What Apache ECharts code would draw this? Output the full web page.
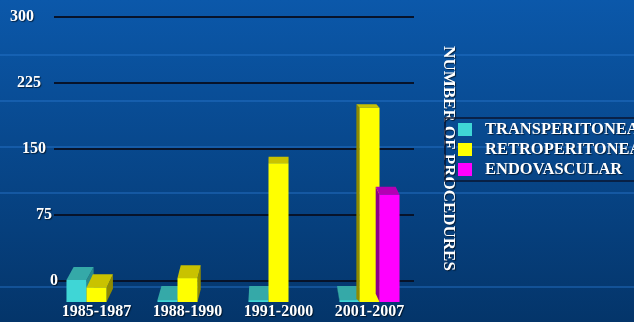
<!DOCTYPE html>
<html>
<head>
<meta charset="utf-8">
<script src="https://cdn.jsdelivr.net/npm/echarts@6/dist/echarts.min.js"></script>
<style>html,body{margin:0;padding:0;background:#0a4f9a;}#c{width:634px;height:322px;}</style>
</head>
<body>
<div id="c"></div>
<script>
const categories = ['1985-1987', '1988-1990', '1991-2000', '2001-2007'];
const transperitoneal = [23, 2, 2, 2];
const retroperitoneal = [15, 25, 145, 203];
const endovascular = [null, null, null, 112];
const yTicks = [0, 75, 150, 225, 300];
const seriesNames = ['TRANSPERITONEAL', 'RETROPERITONEAL', 'ENDOVASCULAR'];
const axisTitle = 'NUMBER OF PROCEDURES';

const faces = [
  { front: '#3fd6d6', top: '#35a9a8', side: '#2a8a8a' },
  { front: '#ffff00', top: '#c9c200', side: '#8f8a00' },
  { front: '#ff00ff', top: '#b400b4', side: '#8a008a' }
];
const labelPad = { 0: 0, 75: 6, 150: 12, 225: 17, 300: 24 };

function renderBar(params, api) {
  const i = api.value(0);
  const v = api.value(1);
  if (v == null || isNaN(v)) return;
  const base = api.coord([i, 0]);
  const top = api.coord([i, v]);
  const band = api.size([1, 0])[0];
  const w = band * 0.22;
  const s = params.seriesIndex;
  const x0 = base[0] + (s - 1.5) * w;
  const x1 = x0 + w;
  const yb = base[1];
  const yt = top[1];
  const cs = params.coordSys;
  const cx = (x0 + x1) / 2;
  const vx = cs.x + cs.width * 0.63;
  const dx = (vx - cx) * 0.035;
  const dy = -Math.max(2.5, 3 + (yt - 100) * 0.055);
  const f = faces[s];
  const children = [];
  if (dx >= 0) {
    children.push({ type: 'polygon', shape: { points: [[x1, yt], [x1 + dx, yt + dy], [x1 + dx, yb + dy], [x1, yb]] }, style: { fill: f.side } });
  } else {
    children.push({ type: 'polygon', shape: { points: [[x0, yt], [x0 + dx, yt + dy], [x0 + dx, yb + dy], [x0, yb]] }, style: { fill: f.side } });
  }
  children.push({ type: 'polygon', shape: { points: [[x0, yt], [x1, yt], [x1 + dx, yt + dy], [x0 + dx, yt + dy]] }, style: { fill: f.top } });
  children.push({ type: 'rect', shape: { x: x0, y: yt, width: w, height: yb - yt }, style: { fill: f.front } });
  return { type: 'group', children: children };
}

function mkData(arr) { return arr.map((v, i) => [i, v]); }

const shadow = { textShadowColor: 'rgba(0,0,0,0.6)', textShadowOffsetX: 1, textShadowOffsetY: 1, textShadowBlur: 1 };
const richLabels = {};
yTicks.forEach(t => {
  richLabels['t' + t] = Object.assign({ padding: [0, labelPad[t], 0, 0], color: '#ffffff', fontFamily: 'Liberation Serif', fontWeight: 'bold', fontSize: 16 }, shadow);
});

const chart = echarts.init(document.getElementById('c'), null, { renderer: 'canvas' });
const bgLines = [55, 101, 147, 193, 287].map(y => ({
  type: 'line', silent: true, z: -10,
  shape: { x1: 0, y1: y, x2: 634, y2: y },
  style: { stroke: '#2a78d0', lineWidth: 1.5, opacity: 0.55 }
}));

chart.setOption({
  animation: false,
  backgroundColor: { type: 'linear', x: 0, y: 0, x2: 0, y2: 1,
    colorStops: [{ offset: 0, color: '#0b58aa' }, { offset: 1, color: '#04356a' }] },
  graphic: bgLines,
  grid: [
    { left: 54, right: 220, top: 17, bottom: 41 },
    { left: 51, right: 219, top: 15, bottom: 20 }
  ],
  xAxis: [
    { type: 'category', gridIndex: 0, data: categories, show: false },
    { type: 'category', gridIndex: 1, data: categories,
      axisLine: { show: false }, axisTick: { show: false },
      axisLabel: Object.assign({ margin: 2, color: '#ffffff', fontFamily: 'Liberation Serif', fontWeight: 'bold', fontSize: 16 }, shadow) }
  ],
  yAxis: [
    { type: 'value', gridIndex: 0, min: 0, max: 300, interval: 75,
      axisLine: { show: false }, axisTick: { show: false },
      splitLine: { lineStyle: { color: '#07132a', width: 2 } },
      axisLabel: { margin: -4, formatter: v => '{t' + v + '|' + v + '}', rich: richLabels } },
    { type: 'value', gridIndex: 1, min: 0, max: 300, interval: 75, show: false },
    { type: 'value', gridIndex: 1, min: 0, max: 300, interval: 75, position: 'right',
      axisLine: { show: false }, axisTick: { show: false }, axisLabel: { show: false }, splitLine: { show: false },
      name: axisTitle, nameLocation: 'middle', nameRotate: -90, nameGap: 25,
      nameTextStyle: Object.assign({ color: '#ffffff', fontFamily: 'Liberation Serif', fontWeight: 'bold', fontSize: 17 }, shadow) }
  ],
  legend: {
    orient: 'vertical', left: 445, top: 118, icon: 'rect',
    itemWidth: 14, itemHeight: 13, itemGap: 3,
    padding: [3, 30, 3, 13],
    borderColor: '#0a1530', borderWidth: 1.5,
    data: seriesNames,
    textStyle: Object.assign({ color: '#ffffff', fontFamily: 'Liberation Serif', fontWeight: 'bold', fontSize: 16.5, lineHeight: 16,
      padding: [0, 0, 0, 8] }, shadow)
  },
  series: [
    { name: seriesNames[0], type: 'custom', xAxisIndex: 1, yAxisIndex: 1, renderItem: renderBar,
      itemStyle: { color: faces[0].front }, encode: { x: 0, y: 1 }, data: mkData(transperitoneal) },
    { name: seriesNames[1], type: 'custom', xAxisIndex: 1, yAxisIndex: 1, renderItem: renderBar,
      itemStyle: { color: faces[1].front }, encode: { x: 0, y: 1 }, data: mkData(retroperitoneal) },
    { name: seriesNames[2], type: 'custom', xAxisIndex: 1, yAxisIndex: 1, renderItem: renderBar,
      itemStyle: { color: faces[2].front }, encode: { x: 0, y: 1 }, data: mkData(endovascular) }
  ]
});
</script>
</body>
</html>
